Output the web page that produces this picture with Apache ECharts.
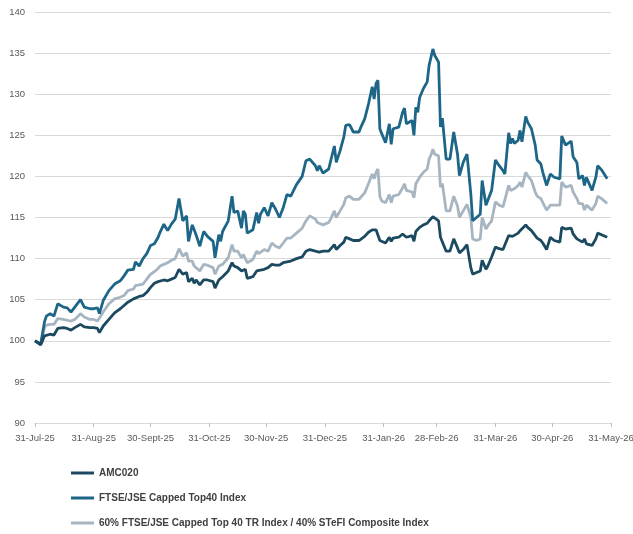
<!DOCTYPE html>
<html>
<head>
<meta charset="utf-8">
<script src="https://cdn.jsdelivr.net/npm/echarts@6/dist/echarts.min.js"></script>
<style>
html,body{margin:0;padding:0;background:#fff;overflow:hidden;width:633px;height:534px;}
#chart{width:633px;height:534px;display:block;}
</style>
</head>
<body>
<div id="chart"></div>
<script>
var dates = [
'2025-07-31','2025-08-03','2025-08-05','2025-08-06','2025-08-08','2025-08-10','2025-08-12','2025-08-15','2025-08-17','2025-08-19',
'2025-08-21','2025-08-24','2025-08-26','2025-08-29','2025-08-31','2025-09-02','2025-09-03','2025-09-05','2025-09-08','2025-09-11',
'2025-09-14','2025-09-16','2025-09-18','2025-09-21','2025-09-22','2025-09-24','2025-09-26','2025-09-28','2025-09-30','2025-10-02',
'2025-10-04','2025-10-05','2025-10-07','2025-10-09','2025-10-11','2025-10-13','2025-10-15','2025-10-17','2025-10-19','2025-10-20',
'2025-10-22','2025-10-23','2025-10-24','2025-10-26','2025-10-28','2025-10-30','2025-10-31','2025-11-02','2025-11-03','2025-11-05',
'2025-11-06','2025-11-07','2025-11-10','2025-11-12','2025-11-13','2025-11-15','2025-11-17','2025-11-18','2025-11-19','2025-11-20',
'2025-11-23','2025-11-25','2025-11-26','2025-11-27','2025-11-29','2025-12-01','2025-12-03','2025-12-05','2025-12-07','2025-12-09',
'2025-12-11','2025-12-13','2025-12-16','2025-12-19','2025-12-21','2025-12-23','2025-12-26','2025-12-27','2025-12-28','2025-12-30',
'2026-01-02','2026-01-03','2026-01-05','2026-01-06','2026-01-08','2026-01-10','2026-01-11','2026-01-13','2026-01-15','2026-01-18',
'2026-01-19','2026-01-21','2026-01-23','2026-01-25','2026-01-26','2026-01-27','2026-01-28','2026-01-29','2026-01-30','2026-02-01',
'2026-02-03','2026-02-04','2026-02-05','2026-02-08','2026-02-10','2026-02-11','2026-02-12','2026-02-15','2026-02-16','2026-02-17',
'2026-02-18','2026-02-19','2026-02-21','2026-02-23','2026-02-24','2026-02-25','2026-02-26','2026-02-27','2026-03-01','2026-03-02',
'2026-03-03','2026-03-05','2026-03-07','2026-03-09','2026-03-11','2026-03-12','2026-03-14','2026-03-16','2026-03-18','2026-03-19',
'2026-03-21','2026-03-23','2026-03-24','2026-03-26','2026-03-27','2026-03-29','2026-03-31','2026-04-02','2026-04-04','2026-04-05',
'2026-04-07','2026-04-08','2026-04-09','2026-04-10','2026-04-12','2026-04-13','2026-04-14','2026-04-16','2026-04-17','2026-04-19',
'2026-04-21','2026-04-22','2026-04-24','2026-04-25','2026-04-27','2026-04-29','2026-05-01','2026-05-04','2026-05-05','2026-05-07',
'2026-05-08','2026-05-10','2026-05-11','2026-05-13','2026-05-14','2026-05-16','2026-05-17','2026-05-18','2026-05-21','2026-05-23',
'2026-05-24','2026-05-26','2026-05-29'
];

var ftseTop40 = [
100,99.6,102.3,103,103.3,103,104.5,104.1,104,103.5,
104.1,105,104.1,103.9,103.9,104,103.3,104.9,106.1,106.9,
107.3,107.9,108.6,108.7,109.6,109.1,110,110.6,111.6,111.8,
112.6,113.2,114.2,113.4,114.2,114.8,117.3,114.6,115.2,112.1,
114.1,113.5,112.9,111.5,113.3,112.7,112.5,112.1,110.1,112.9,
112.1,113.3,114.6,117.6,115.6,115.8,113.7,115.8,115.4,113.1,
113.5,115.6,114.3,115.4,116.2,115.2,116.8,116,115,116.2,
117.8,117.6,119,120,121.9,122.1,121.3,120.7,121.3,120.4,
120.9,121.1,123.7,121.7,123.1,124.8,126.2,126.3,125.4,125.4,
126,127,128.8,130.9,129.4,131.3,131.7,125.8,125.2,124.1,
126.4,123.9,125.8,126,127.8,128.3,126.4,126.8,125,128.4,
127.8,129.6,130.7,131.5,133.5,133.7,135.5,134.7,133.9,126,
127.1,122.1,122.1,125.4,122.7,120.1,121.7,122.7,117.9,114.6,
115,115.4,119.5,116.5,117.1,118.3,122,121.3,120.7,120.3,
125.3,124,124.6,124,124.4,125.6,124.2,127.3,126.6,125.8,
123.8,122,121.5,120.5,118.9,120.3,119.9,119.7,124.9,123.8,
124,124.3,122.4,121.7,119.7,120.1,118.9,119.9,118.3,119.9,
121.3,120.8,119.7
];

var blended = [
100,99.6,101.6,101.9,102,102,102.7,102.6,102.5,102.4,
102.6,103.3,102.9,102.6,102.6,102.4,102.2,103.5,104.5,105.1,
105.3,105.5,106.1,106.3,106.7,106.8,106.9,107.5,108.1,108.4,
108.8,109.1,109.3,109.5,109.8,110,111.2,110.3,110.7,109.7,
109.7,109.1,109.3,108.5,109.3,109.2,109.1,108.9,108.1,109.1,
109.2,109.3,110.1,111.7,110.9,110.9,110.1,110.5,110.7,109.5,
109.9,110.9,110.6,110.5,111.1,110.9,111.9,111.5,111.3,111.9,
112.5,112.5,113.1,113.7,114.6,115.2,114.8,114.4,114.3,114.1,
114.4,114.8,115.8,115,115.8,116.6,117.4,117.6,117.2,117.2,
117.5,118,119.1,120.3,119.7,120.5,120.9,117.6,117,116.8,
117.8,116.8,117.6,117.8,118.6,119.1,118.3,118.1,117.4,119.1,
119.3,119.9,120.5,120.9,122.1,122.6,123.3,122.7,122.5,118.7,
119.1,115.8,115.8,117.6,116.4,115,115.8,116.6,115,112.4,
112.2,112.4,115,113.6,114,114.6,116.9,116.5,116.3,116.1,
118.9,118.3,118.4,118.5,118.9,119.3,118.7,120.5,120.1,119.5,
118.1,117.6,117.3,116.8,115.9,116.5,116.5,116.5,119.3,118.7,
118.8,118.9,118.1,117.3,116.7,116.7,115.9,116.5,115.9,116.7,
117.6,117.3,116.7
];

var amc020 = [
100,99.5,100.6,100.7,100.8,100.7,101.5,101.6,101.5,101.3,
101.6,102,101.7,101.6,101.6,101.5,101,101.8,102.6,103.4,
103.9,104.3,104.7,105.1,105.3,105.4,105.5,105.9,106.5,107,
107.2,107.3,107.4,107.3,107.5,107.7,108.7,108.1,108.3,107.2,
107.6,107,107.4,106.8,107.4,107.4,107.4,107.2,106.4,107.4,
107.6,107.8,108.5,109.5,109.1,108.9,108.5,108.6,108.7,107.6,
107.8,108.5,108.5,108.6,108.7,108.9,109.3,109.2,109.2,109.5,
109.6,109.7,110,110.2,110.9,111.1,110.9,110.7,110.8,110.9,
110.9,110.9,111.7,111.1,111.6,112,112.6,112.4,112.2,112.2,
112.4,112.7,113.2,113.5,113.4,113.5,113.6,112.2,112.1,111.9,
112.6,112.1,112.5,112.6,113,113.2,112.6,112.8,112.1,113.3,
113.4,113.8,114.1,114.3,114.6,114.8,115.1,114.9,114.6,112.6,
112.4,110.9,110.9,112.4,111.3,110.7,111.1,111.7,108.9,108.1,
108.3,108.5,109.8,108.7,109.1,110.2,111.4,111.2,111.1,111,
112.8,112.6,112.7,112.8,113.1,113.4,113.2,114.1,113.8,113.4,
112.8,112.5,112.2,111.9,111.1,112.6,112.2,112,113.8,113.6,
113.6,113.7,113,112.4,112.2,112,112.4,111.8,111.6,112.4,
113.1,112.9,112.6
];

var tickDates = ['2025-07-31','2025-08-31','2025-09-30','2025-10-31','2025-11-30','2025-12-31','2026-01-31','2026-02-28','2026-03-31','2026-04-30','2026-05-31'];
var tickLabels = ['31-Jul-25','31-Aug-25','30-Sept-25','31-Oct-25','30-Nov-25','31-Dec-25','31-Jan-26','28-Feb-26','31-Mar-26','30-Apr-26','31-May-26'];
var seriesNames = ['AMC020','FTSE/JSE Capped Top40 Index','60% FTSE/JSE Capped Top 40 TR Index / 40% STeFI Composite Index'];

function toTs(s){ var p = s.split('-'); return Date.UTC(+p[0], +p[1]-1, +p[2]); }
var tickTs = tickDates.map(toTs);
function pairs(vals){ return vals.map(function(v,i){ return [toTs(dates[i]), v]; }); }

var font = '"Liberation Sans", Arial, sans-serif';
var chart = echarts.init(document.getElementById('chart'), null, {renderer:'canvas', width:633, height:534});
chart.setOption({
  animation:false,
  backgroundColor:'#ffffff',
  grid:{left:35, right:22, top:12, height:411, containLabel:false, outerBoundsMode:'none'},
  xAxis:{
    type:'value',
    min: tickTs[0],
    max: tickTs[tickTs.length-1],
    axisLine:{show:true, lineStyle:{color:'#d9d9d9', width:1}},
    axisTick:{show:true, customValues: tickTs, length:4, lineStyle:{color:'#bfbfbf'}},
    axisLabel:{
      customValues: tickTs,
      margin:10,
      color:'#595959',
      fontFamily:font,
      fontSize:9.5,
      hideOverlap:false,
      showMinLabel:true,
      showMaxLabel:true,
      formatter:function(v){
        for (var i=0;i<tickTs.length;i++){ if (Math.abs(tickTs[i]-v) < 3600000*12) return tickLabels[i]; }
        return '';
      }
    },
    splitLine:{show:false}
  },
  yAxis:{
    type:'value',
    min:90, max:140, interval:5,
    axisLine:{show:false},
    axisTick:{show:false},
    axisLabel:{color:'#595959', fontFamily:font, fontSize:9.5, margin:10},
    splitLine:{show:true, lineStyle:{color:'#d9d9d9', width:1}}
  },
  legend:{
    orient:'vertical',
    left:71, top:467,
    padding:0,
    height:70,
    itemWidth:23, itemHeight:3,
    itemGap:13,
    icon:'rect',
    data: seriesNames,
    textStyle:{fontFamily:font, fontSize:10, fontWeight:'bold', color:'#404040', lineHeight:12}
  },
  series:[
    {name:seriesNames[0], type:'line', showSymbol:false, data:pairs(amc020), color:'#1b4a60', lineStyle:{width:2.8, color:'#1b4a60'}, z:3},
    {name:seriesNames[1], type:'line', showSymbol:false, data:pairs(ftseTop40), color:'#1d6687', lineStyle:{width:2.8, color:'#1d6687'}, z:2},
    {name:seriesNames[2], type:'line', showSymbol:false, data:pairs(blended), color:'#a7b5c1', lineStyle:{width:2.8, color:'#a7b5c1'}, z:1}
  ]
});
</script>
</body>
</html>
